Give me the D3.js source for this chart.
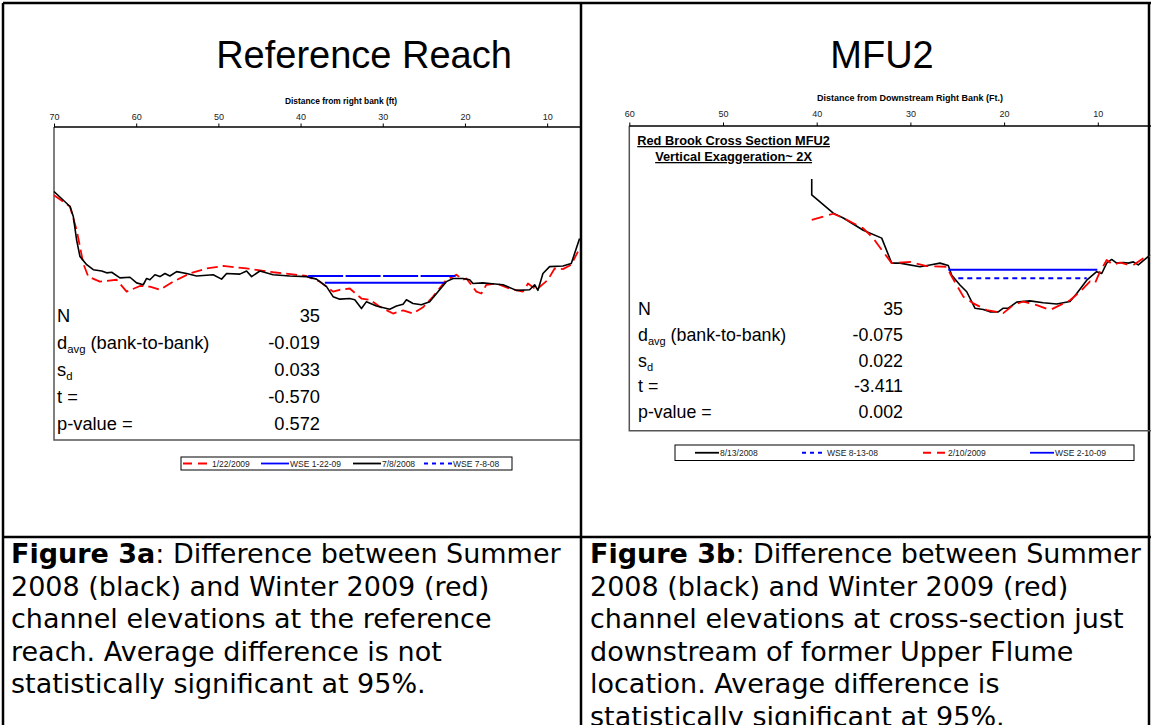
<!DOCTYPE html>
<html><head><meta charset="utf-8">
<script src="https://cdn.jsdelivr.net/npm/d3@7"></script>
<style>
html,body{margin:0;padding:0;background:#fff;}
svg{display:block;}
</style></head>
<body>
<svg id="fig" width="1151" height="725"></svg>
<script>
// ---------- Reference Reach cross-section (distance from right bank, ft / relative elevation, ft)
const refDist0708 = [70,68.05,67.65,67.24,66.84,66.02,65.22,64.2,63.59,62.98,61.98,60.76,59.95,59.14,58.73,58.33,57.72,57.11,56.5,55.9,55.08,53.87,52.65,50.63,49.61,49.0,47.39,46.57,45.96,44.95,43.34,41.31,39.28,38.06,36.84,36.04,35.23,34.01,33.4,32.59,31.98,30.77,29.15,28.33,27.53,27.12,26.32,25.3,24.29,23.28,22.26,21.45,20.24,19.42,19.02,17.81,16.99,15.37,13.74,12.13,11.52,11.12,10.51,9.7,8.08,7.06,6.05];
const refElev0708 = [3.97,3.73,3.57,3.19,2.93,2.80,2.72,2.70,2.67,2.68,2.59,2.60,2.51,2.48,2.58,2.56,2.64,2.61,2.66,2.62,2.69,2.66,2.62,2.64,2.57,2.66,2.65,2.70,2.61,2.70,2.64,2.62,2.61,2.57,2.45,2.29,2.25,2.26,2.24,2.10,2.21,2.14,2.09,2.14,2.17,2.24,2.18,2.16,2.21,2.37,2.53,2.58,2.58,2.56,2.50,2.51,2.50,2.48,2.39,2.40,2.48,2.39,2.66,2.77,2.78,2.82,3.22];
const refDist0122 = [70,68.05,67.24,66.84,66.44,65.83,64.41,62.38,61.16,59.54,58.33,57.11,55.5,53.47,51.43,49.42,46.57,43.34,39.28,37.66,36.04,35.23,34.01,32.59,31.58,30.36,28.75,27.53,26.32,25.1,23.88,23.28,22.26,21.04,20.24,19.82,18.61,18.0,17.39,16.18,14.56,12.94,12.33,11.31,10.51,9.9,9.09,8.08,7.06,6.25];
const refElev0122 = [3.91,3.73,3.35,3.09,2.82,2.61,2.53,2.56,2.37,2.46,2.45,2.40,2.53,2.66,2.74,2.78,2.74,2.68,2.62,2.53,2.37,2.40,2.42,2.26,2.24,2.13,2.02,2.07,2.02,2.12,2.29,2.39,2.56,2.64,2.56,2.58,2.37,2.34,2.48,2.50,2.42,2.37,2.50,2.40,2.49,2.56,2.74,2.73,2.80,3.01];
const refWse0122Dist = [37.05, 22.46];
const refWse0122Elev = [2.51, 2.51];
const refWse0708Dist = [39.08, 21.04];
const refWse0708Elev = [2.62, 2.62];
const refTicks = [70, 60, 50, 40, 30, 20, 10];
const refStatValues = ["35", "-0.019", "0.033", "-0.570", "0.572"];

// ---------- MFU2 cross-section (distance from downstream right bank, ft / relative elevation, ft)
const mfuDist0813 = [40.53,40.53,38.23,37.16,35.03,33.06,32.0,31.11,28.98,27.91,26.84,25.96,25.59,24.71,23.99,23.11,22.22,21.51,20.62,20.09,19.55,18.66,17.24,15.82,14.39,12.97,12.25,11.18,10.12,9.58,9.05,8.52,7.98,7.28,6.74,6.21,5.68,5.14,4.43];
const mfuElev0813 = [4.13,3.87,3.57,3.49,3.29,3.16,2.75,2.75,2.69,2.72,2.75,2.71,2.55,2.39,2.28,2.01,1.99,1.95,1.95,2.01,2.01,2.11,2.13,2.10,2.08,2.12,2.25,2.47,2.61,2.58,2.75,2.81,2.75,2.76,2.75,2.77,2.72,2.79,2.88];
const mfuDist0210 = [40.53,38.23,37.16,35.03,33.96,33.6,32.0,30.0,28.26,26.13,25.59,24.35,23.29,21.86,20.09,19.02,17.95,16.52,15.1,14.03,12.97,11.9,10.83,10.3,9.77,9.05,8.35,7.63,6.92,6.21,5.14,4.43];
const mfuElev0210 = [3.46,3.56,3.49,3.32,3.16,3.08,2.75,2.77,2.70,2.69,2.53,2.20,2.09,1.98,1.93,2.06,2.12,2.06,1.98,2.06,2.14,2.28,2.45,2.42,2.61,2.80,2.72,2.76,2.73,2.72,2.83,2.86];
const mfuWse0210Dist = [25.96, 10.05];
const mfuWse0210Elev = [2.64, 2.64];
const mfuWse0813Dist = [24.89, 11.18];
const mfuWse0813Elev = [2.50, 2.50];
const mfuTicks = [60, 50, 40, 30, 20, 10];
const mfuStatValues = ["35", "-0.075", "0.022", "-3.411", "0.002"];

const statLabels = ["N", "davg", "sd", "t =", "p-value ="];

const captionA = ["Difference between Summer", "2008 (black) and Winter 2009 (red)", "channel elevations at the reference", "reach. Average difference is not", "statistically significant at 95%."];
const captionB = ["Difference between Summer", "2008 (black) and Winter 2009 (red)", "channel elevations at cross-section just", "downstream of former Upper Flume", "location. Average difference is", "statistically significant at 95%."];

const svg = d3.select("#fig");
const SANS = "'Liberation Sans', Arial, Helvetica, sans-serif";
const CAP = "'DejaVu Sans', Verdana, sans-serif";

// ---------- table frame
const frame = svg.append("g").attr("stroke", "#000").attr("stroke-width", 2.5);
frame.append("line").attr("x1", 3).attr("x2", 1151).attr("y1", 3).attr("y2", 3);
frame.append("line").attr("x1", 3).attr("x2", 3).attr("y1", 3).attr("y2", 725);
frame.append("line").attr("x1", 581).attr("x2", 581).attr("y1", 3).attr("y2", 725);
frame.append("line").attr("x1", 1149).attr("x2", 1149).attr("y1", 3).attr("y2", 725);
frame.append("line").attr("x1", 3).attr("x2", 1151).attr("y1", 537).attr("y2", 537);

// ---------- panel titles
svg.append("text").attr("x", 364).attr("y", 68).attr("text-anchor", "middle")
  .attr("font-family", SANS).attr("font-size", 38).text("Reference Reach");
svg.append("text").attr("x", 882).attr("y", 68).attr("text-anchor", "middle")
  .attr("font-family", SANS).attr("font-size", 38).text("MFU2");

function drawPanel(p) {
  const g = svg.append("g");
  const x = d3.scaleLinear().domain(p.xDomain).range([p.left, p.right]);
  const y = d3.scaleLinear().domain([0, 5]).range([p.bottom, p.top]);

  // plot frame (left and bottom)
  g.append("path")
    .attr("d", `M${p.left},${p.top}V${p.bottom}H${p.frameRight}`)
    .attr("fill", "none").attr("stroke", "#555").attr("stroke-width", 1.5);

  // distance axis on top
  const ax = g.append("g").attr("transform", `translate(0,${p.top})`)
    .call(d3.axisTop(x).tickValues(p.ticks).tickSize(3.5).tickPadding(p.tickPad).tickSizeOuter(0));
  ax.select(".domain").attr("stroke", "#000").attr("stroke-width", 1.5)
    .attr("d", `M${p.left},0H${p.frameRight}`);
  ax.selectAll(".tick line").attr("stroke", "#000");
  ax.selectAll(".tick text").attr("font-family", SANS).attr("font-size", 9).attr("fill", "#222");

  g.append("text").attr("x", p.titleX).attr("y", p.titleY).attr("text-anchor", "middle")
    .attr("font-family", SANS).attr("font-size", p.titleSize).attr("font-weight", "bold").text(p.axisTitle);

  const line = d3.line().x(d => x(d[0])).y(d => y(d[1]));
  p.series.forEach(s => {
    g.append("path").datum(d3.zip(s.dist, s.elev))
      .attr("d", line).attr("fill", "none")
      .attr("stroke", s.color).attr("stroke-width", s.width)
      .attr("stroke-dasharray", s.dash || null)
      .attr("stroke-linejoin", "round");
  });

  // paired t-test summary
  const st = g.append("g").attr("font-family", SANS).attr("font-size", p.statSize).attr("fill", "#000");
  statLabels.forEach((lab, i) => {
    const yy = p.statY0 + i * p.statStep;
    const t = st.append("text").attr("x", p.statX).attr("y", yy);
    if (lab === "davg") {
      t.append("tspan").text("d");
      t.append("tspan").attr("font-size", p.statSize * 0.62).attr("dy", 4).text("avg");
      t.append("tspan").attr("dy", -4).text(" (bank-to-bank)");
    } else if (lab === "sd") {
      t.append("tspan").text("s");
      t.append("tspan").attr("font-size", p.statSize * 0.62).attr("dy", 4).text("d");
    } else {
      t.text(lab);
    }
    st.append("text").attr("x", p.valueX).attr("y", yy).attr("text-anchor", "end").text(p.stats[i]);
  });

  // legend
  const lg = g.append("g");
  lg.append("rect").attr("x", p.legend.x).attr("y", p.legend.y)
    .attr("width", p.legend.w).attr("height", p.legend.h)
    .attr("fill", "#fff").attr("stroke", "#000").attr("stroke-width", 1);
  const my = p.legend.y + p.legend.h / 2;
  p.legendSeries.forEach((s, i) => {
    const lx = p.legend.items[i];
    lg.append("line").attr("x1", lx).attr("x2", lx + p.legend.len).attr("y1", my).attr("y2", my)
      .attr("stroke", s.color).attr("stroke-width", 1.8).attr("stroke-dasharray", s.legendDash || null);
    lg.append("text").attr("x", lx + p.legend.len + 1).attr("y", my + 3)
      .attr("font-family", SANS).attr("font-size", 8.5).attr("fill", "#222").text(s.name);
  });
  return { x, y, g };
}

// Reference Reach series (legend order)
const red0122 = { name: "1/22/2009", dist: refDist0122, elev: refElev0122, color: "#ff0000", width: 1.8, dash: "11,5", legendDash: "9,6" };
const wse0122 = { name: "WSE 1-22-09", dist: refWse0122Dist, elev: refWse0122Elev, color: "#0000ff", width: 2, legendDash: null };
const blk0708 = { name: "7/8/2008", dist: refDist0708, elev: refElev0708, color: "#000", width: 1.6, legendDash: null };
const wse0708 = { name: "WSE 7-8-08", dist: refWse0708Dist, elev: refWse0708Elev, color: "#0000ff", width: 2.2, dash: "35,2.5", legendDash: "4,4" };

drawPanel({
  xDomain: [70, 6], left: 54, right: 580, frameRight: 580, top: 127, bottom: 440,
  ticks: refTicks, tickPad: 4, axisTitle: "Distance from right bank (ft)", titleX: 341, titleY: 104, titleSize: 8.4,
  series: [red0122, wse0122, blk0708, wse0708], legendSeries: [red0122, wse0122, blk0708, wse0708],
  stats: refStatValues, statX: 57, valueX: 320, statY0: 321.7, statStep: 27.1, statSize: 18.3,
  legend: { x: 181, y: 457, w: 331, h: 13, len: 28, items: [183, 261, 353, 424] }
});

// MFU2 series (legend order)
const blk0813 = { name: "8/13/2008", dist: mfuDist0813, elev: mfuElev0813, color: "#000", width: 1.6, legendDash: null };
const wse0813 = { name: "WSE 8-13-08", dist: mfuWse0813Dist, elev: mfuWse0813Elev, color: "#0000ff", width: 2, dash: "5,4", legendDash: "4,4" };
const red0210 = { name: "2/10/2009", dist: mfuDist0210, elev: mfuElev0210, color: "#ff0000", width: 1.8, dash: "12,6", legendDash: "8,6" };
const wse0210 = { name: "WSE 2-10-09", dist: mfuWse0210Dist, elev: mfuWse0210Elev, color: "#0000ff", width: 2, legendDash: null };

const mfu = drawPanel({
  xDomain: [60, 4], left: 629.3, right: 629.3 + 56 * 9.37, frameRight: 1151, top: 126, bottom: 430.7,
  ticks: mfuTicks, tickPad: 6, axisTitle: "Distance from Downstream Right Bank (Ft.)", titleX: 910, titleY: 101, titleSize: 9,
  series: [blk0813, wse0813, red0210, wse0210], legendSeries: [blk0813, wse0813, red0210, wse0210],
  stats: mfuStatValues, statX: 638, valueX: 903, statY0: 315, statStep: 25.8, statSize: 17.8,
  legend: { x: 675, y: 445, w: 459, h: 15.5, len: 24, items: [695, 802, 923, 1030] }
});

const hdr = mfu.g.append("g").attr("font-family", SANS).attr("font-size", 12.8).attr("font-weight", "bold")
  .attr("text-anchor", "middle").attr("text-decoration", "underline");
hdr.append("text").attr("x", 733.6).attr("y", 145).text("Red Brook Cross Section MFU2");
hdr.append("text").attr("x", 733.6).attr("y", 161).text("Vertical Exaggeration~ 2X");

// ---------- figure captions
function caption(lines, x, label) {
  const g = svg.append("g").attr("font-family", CAP).attr("font-size", 27).attr("fill", "#000");
  lines.forEach((ln, i) => {
    const t = g.append("text").attr("x", x).attr("y", 563 + i * 32.5);
    if (i === 0) {
      t.append("tspan").attr("font-weight", "bold").text(label);
      t.append("tspan").text(": " + ln);
    } else t.text(ln);
  });
}
caption(captionA, 11, "Figure 3a");
caption(captionB, 590, "Figure 3b");
</script>
</body></html>
